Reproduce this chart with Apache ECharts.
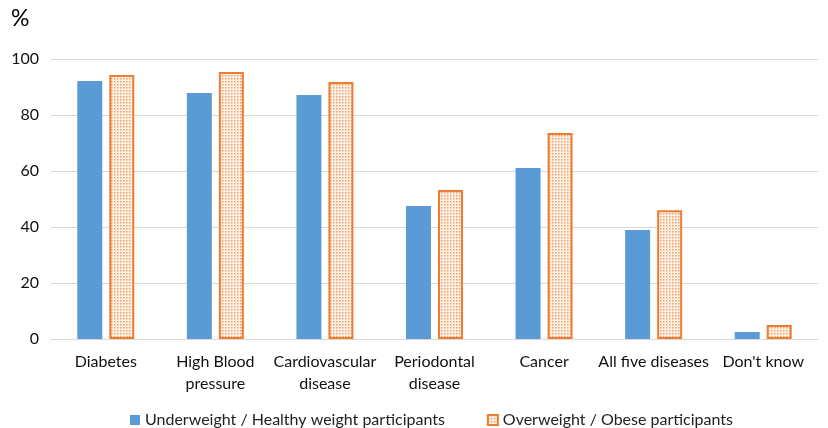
<!DOCTYPE html>
<html><head><meta charset="utf-8">
<script src="https://cdn.jsdelivr.net/npm/echarts@6/dist/echarts.min.js"></script>
<style>html,body{margin:0;padding:0;background:#fff}#c{width:828px;height:428px}</style>
</head><body><div id="c"></div>
<script>
const categories = ['Diabetes', 'High Blood\npressure', 'Cardiovascular\ndisease', 'Periodontal\ndisease', 'Cancer', 'All five diseases', "Don't know"];
const healthyWeight = [92.1, 87.9, 87.1, 47.5, 61.1, 38.9, 2.5];
const overweightObese = [94.3, 95.4, 91.8, 53.2, 73.6, 46.0, 5.0];
const yTicks = [0, 20, 40, 60, 80, 100];

function makePattern() {
  const c = document.createElement('canvas');
  c.width = 3; c.height = 3;
  const g = c.getContext('2d');
  g.fillStyle = '#fdf1e6';
  g.fillRect(0, 0, 3, 3);
  g.fillStyle = '#eea06a';
  g.fillRect(0, 0, 1.5, 1.5);
  return c;
}

const chart = echarts.init(document.getElementById('c'));
const font = "Lato, 'Liberation Sans', 'DejaVu Sans', sans-serif";
chart.setOption({
  animation: false,
  textStyle: { fontFamily: font },
  graphic: [{ type: 'text', left: 11, top: 7, style: { text: '%', fontSize: 23, fill: '#000', fontFamily: font } }],
  grid: { left: 51, right: 10, top: 59, bottom: 89 },
  legend: {
    top: 407, left: 125, padding: [5, 5], itemWidth: 10, itemHeight: 10, itemGap: 42,
    textStyle: { fontSize: 16, color: '#222' },
    data: [
      { name: 'Underweight / Healthy weight participants', icon: 'rect' },
      { name: 'Overweight / Obese participants', icon: 'rect' }
    ]
  },
  xAxis: {
    type: 'category', data: categories,
    axisLine: { lineStyle: { color: '#d9d9d9' } },
    axisTick: { show: false },
    axisLabel: { fontSize: 16, color: '#111', lineHeight: 22, margin: 12, interval: 0 }
  },
  yAxis: {
    type: 'value', min: 0, max: 100, interval: 20,
    axisLine: { show: false }, axisTick: { show: false },
    splitLine: { lineStyle: { color: '#d9d9d9' } },
    axisLabel: { fontSize: 16, color: '#111', margin: 12 }
  },
  series: [
    { name: 'Underweight / Healthy weight participants', type: 'bar', data: healthyWeight,
      barWidth: 25, barGap: '28%', itemStyle: { color: '#5b9bd5' } },
    { name: 'Overweight / Obese participants', type: 'bar', data: overweightObese,
      barWidth: 25, itemStyle: { color: { image: makePattern(), repeat: 'repeat' }, borderColor: '#ed7d31', borderWidth: 2 } }
  ]
});
</script></body></html>
